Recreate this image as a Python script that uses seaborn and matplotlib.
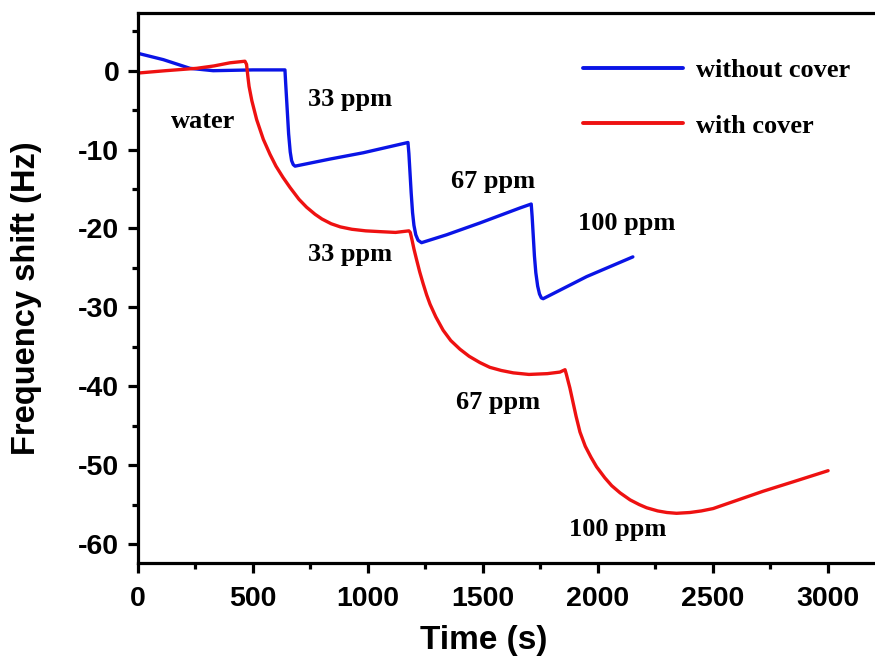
import numpy as np
import pandas as pd
import matplotlib
matplotlib.use("Agg")
import matplotlib.pyplot as plt
import seaborn as sns
from matplotlib.ticker import MultipleLocator

# ---- data ----
blue_t = [0, 110, 226, 327, 500, 639, 642, 648, 655, 662, 668, 675, 683, 700, 835, 980, 1174,
          1178, 1183, 1188, 1194, 1200, 1208, 1218, 1233, 1342, 1487, 1661, 1710,
          1714, 1719, 1724, 1730, 1738, 1746, 1754, 1762, 1951, 2152]
blue_y = [2.2, 1.4, 0.3, 0.0, 0.1, 0.1, -1.5, -4.5, -8.0, -10.3, -11.4, -11.9, -12.1, -12.0, -11.2, -10.4, -9.1,
          -10.5, -13.0, -15.5, -18.0, -19.6, -20.8, -21.5, -21.8, -20.8, -19.3, -17.4, -16.9,
          -18.5, -21.0, -23.5, -25.6, -27.3, -28.3, -28.8, -28.9, -26.1, -23.6]

red_t = [0, 120, 255, 330, 400, 465, 472, 478, 483, 495, 516, 545, 574, 600, 630, 661, 700, 733, 770, 800,
         840, 880, 930, 990, 1052, 1120, 1178,
         1184, 1192, 1200, 1211, 1225, 1240, 1255, 1270, 1295, 1327, 1360, 1400, 1440, 1487, 1530, 1580,
         1632, 1700, 1780, 1835, 1857,
         1863, 1870, 1878, 1890, 1905, 1922, 1945, 1970, 1994, 2030, 2060, 2096, 2140, 2180, 2212, 2260,
         2300, 2342, 2400, 2450, 2501, 2600, 2719, 2850, 3001]
red_y = [-0.3, 0.0, 0.3, 0.6, 1.0, 1.2, 0.8, -0.8, -2.0, -3.8, -6.2, -8.7, -10.6, -12.1, -13.5, -14.8, -16.3, -17.3, -18.2, -18.8,
         -19.4, -19.8, -20.1, -20.3, -20.4, -20.5, -20.3,
         -20.5, -21.5, -22.6, -23.9, -25.5, -27.0, -28.4, -29.6, -31.2, -32.9, -34.2, -35.3, -36.2, -37.0, -37.6, -38.0,
         -38.3, -38.5, -38.4, -38.2, -37.9,
         -38.5, -39.3, -40.2, -41.8, -43.8, -45.8, -47.6, -49.0, -50.2, -51.6, -52.6, -53.5, -54.4, -55.0, -55.4, -55.8,
         -56.0, -56.1, -56.0, -55.8, -55.5, -54.5, -53.3, -52.1, -50.7]

series_names = ["without cover", "with cover"]
series_colors = ["#0a14e6", "#ee1111"]

df = pd.concat([
    pd.DataFrame({"t": blue_t, "f": blue_y, "series": series_names[0]}),
    pd.DataFrame({"t": red_t, "f": red_y, "series": series_names[1]}),
], ignore_index=True)

sns.set_style("ticks")
plt.rcParams["font.family"] = ["Liberation Sans", "DejaVu Sans"]
plt.rcParams["axes.unicode_minus"] = False
plt.rcParams["text.color"] = "black"
plt.rcParams["axes.labelcolor"] = "black"
plt.rcParams["xtick.color"] = "black"
plt.rcParams["ytick.color"] = "black"
plt.rcParams["xtick.labelcolor"] = "black"
plt.rcParams["ytick.labelcolor"] = "black"

W, H = 875, 666
fig = plt.figure(figsize=(W / 100, H / 100), dpi=100)
ax = fig.add_axes([138 / W, 1 - 563 / H, 1 - 138 / W, (563 - 12.7) / H])

sns.lineplot(data=df, x="t", y="f", hue="series", palette=dict(zip(series_names, series_colors)),
             sort=False, estimator=None, linewidth=2.4, ax=ax)

ax.set_xlim(0, 3205)
ax.set_ylim(-62.4, 7.35)
ax.xaxis.set_major_locator(MultipleLocator(500))
ax.xaxis.set_minor_locator(MultipleLocator(250))
ax.yaxis.set_major_locator(MultipleLocator(10))
ax.yaxis.set_minor_locator(MultipleLocator(5))

for s in ["left", "bottom", "top"]:
    ax.spines[s].set_linewidth(2.3)
    ax.spines[s].set_color("black")
ax.spines["right"].set_visible(False)

ax.tick_params(which="major", direction="out", length=7.5, width=2.3, pad=6, labelsize=20.5,
               color="black", labelcolor="black")
ax.tick_params(which="minor", direction="out", length=4, width=2.3, color="black")
ax.tick_params(axis="x", which="major", pad=9)
ax.tick_params(top=False, right=False, which="both")
for lab in ax.get_xticklabels() + ax.get_yticklabels():
    lab.set_fontweight("bold")

ax.set_xlabel("Time (s)", fontsize=24, fontweight="bold", va="center", color="black")
ax.set_ylabel("Frequency shift (Hz)", fontsize=23.5, fontweight="bold", va="center", color="black")
ax.xaxis.set_label_coords((484 - 138) / (W - 138), -(640 - 563) / (563 - 12.7))
ax.yaxis.set_label_coords((27 - 138) / (W - 138), (563 - 298) / (563 - 12.7))

serif = ["Liberation Serif", "DejaVu Serif"]
tk = dict(fontsize=19, fontweight="bold", family=serif, ha="center", va="center", color="black")
ax.text(283, -6.4, "water", **tk)
ax.text(922, -3.7, "33 ppm", **tk)
ax.text(922, -23.3, "33 ppm", **tk)
ax.text(1543, -14.0, "67 ppm", **tk)
ax.text(1565, -42.1, "67 ppm", **tk)
ax.text(2126, -19.4, "100 ppm", **tk)
ax.text(2087, -58.1, "100 ppm", **tk)

leg = ax.legend(loc="upper left", bbox_to_anchor=(583 / W, 1 - 59 / H), bbox_transform=fig.transFigure,
                frameon=False, handlelength=3.8, handletextpad=0.5, labelspacing=1.2,
                borderpad=0, borderaxespad=0,
                prop={"family": serif, "weight": "bold", "size": 19})
for line in leg.get_lines():
    line.set_linewidth(2.8)
for t in leg.get_texts():
    t.set_color("black")

fig.savefig("out.png", dpi=100)
